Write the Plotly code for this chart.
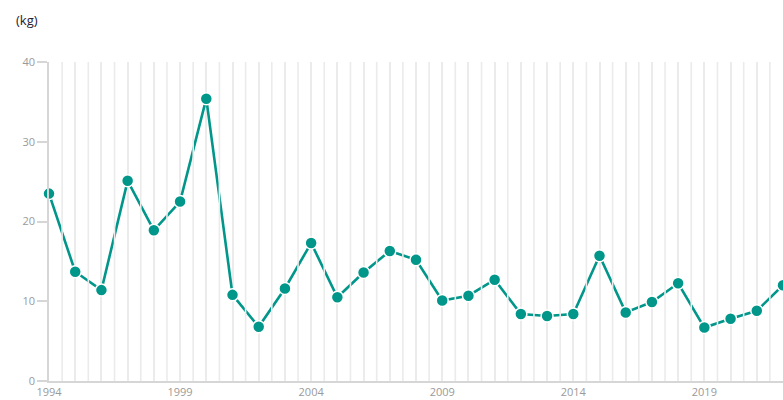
import numpy as np
import plotly.graph_objects as go

years = list(range(1994, 2023))
values = [23.5, 13.7, 11.4, 25.1, 18.9, 22.5, 35.4, 10.8, 6.8, 11.6,
          17.3, 10.5, 13.6, 16.3, 15.2, 10.1, 10.7, 12.7, 8.4, 8.15,
          8.4, 15.7, 8.6, 9.9, 12.25, 6.7, 7.8, 8.8, 12.0]
y_ticks = [0, 10, 20, 30, 40]
unit_label = "(kg)"

teal = "#00968a"
grid = "#ebebeb"
axis_col = "#d6d6d6"
tick_font = dict(family="Open Sans, sans-serif", size=11, color="#9a9a9a")

fig = go.Figure()
# line
fig.add_trace(go.Scatter(x=years, y=values, mode="lines",
                         line=dict(color=teal, width=2.6),
                         hoverinfo="skip", showlegend=False, cliponaxis=False))
# markers on top
fig.add_trace(go.Scatter(x=years, y=values, mode="markers",
                         marker=dict(color=teal, size=12, line=dict(color="white", width=1.5)),
                         showlegend=False, cliponaxis=False))

# half-year grid lines drawn above the line (they cut through it in the original)
for gx in np.arange(years[0] + 0.5, years[-1], 1.0):
    fig.add_shape(type="line", xref="x", yref="paper", x0=gx, x1=gx, y0=0, y1=1,
                  line=dict(color=grid, width=1.6), layer="above")

fig.update_layout(
    width=783, height=400,
    margin=dict(l=49, r=0, t=62, b=19),
    paper_bgcolor="white", plot_bgcolor="white",
    font=dict(family="Open Sans, sans-serif"),
    xaxis=dict(range=[years[0], years[-1]], tick0=years[0], dtick=5,
               showgrid=True, gridcolor=grid, gridwidth=1.6,
               minor=dict(dtick=1, showgrid=True, gridcolor=grid, gridwidth=1.6),
               showline=True, linecolor=axis_col, linewidth=1.5,
               ticks="", tickfont=tick_font, zeroline=False, fixedrange=True),
    yaxis=dict(range=[0, 40], tickvals=y_ticks, showgrid=False, zeroline=False,
               showline=True, linecolor=axis_col, linewidth=1.5,
               ticks="outside", ticklen=10, tickcolor=axis_col, tickwidth=1.5,
               tickfont=tick_font, fixedrange=True),
    annotations=[dict(text=unit_label, xref="paper", yref="paper",
                      x=-35 / 734, y=(381 - 20) / 319, xanchor="left", yanchor="middle",
                      showarrow=False,
                      font=dict(family="Open Sans, sans-serif", size=13, color="#222233"))],
)

fig.write_html("out.html",
               config={"displayModeBar": False},
               post_script="document.body.style.margin='0';document.body.style.overflow='hidden';")
